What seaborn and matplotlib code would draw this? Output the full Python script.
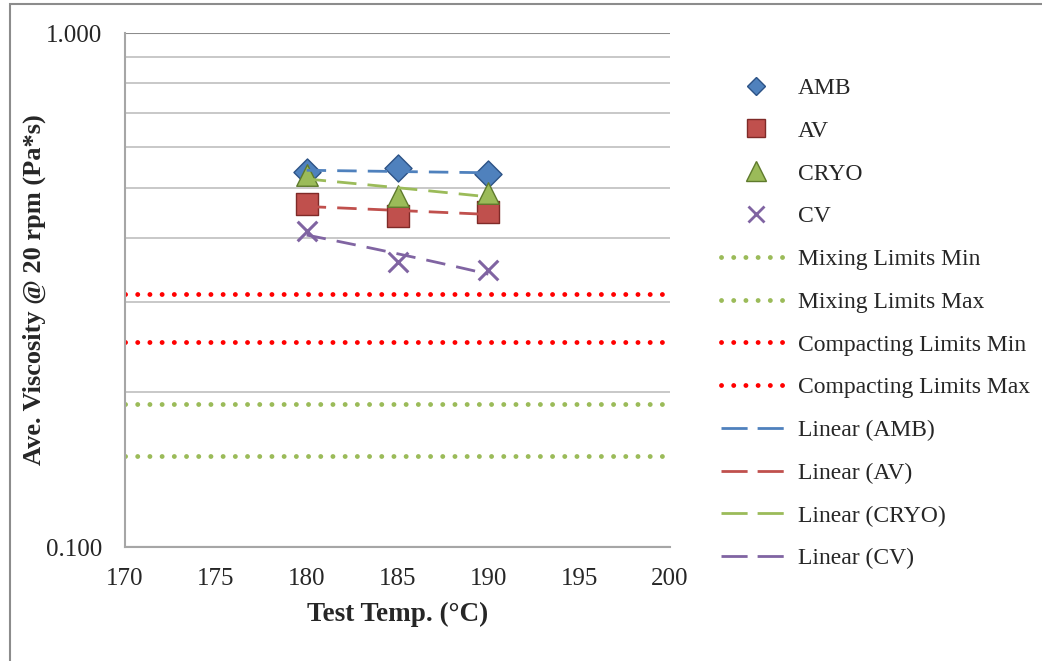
import numpy as np
import pandas as pd
import seaborn as sns
import matplotlib
matplotlib.use("Agg")
import matplotlib.pyplot as plt
from matplotlib.patches import Rectangle
from matplotlib.ticker import FixedLocator, FormatStrFormatter, NullFormatter

sns.set_style("white")
plt.rcParams['font.family'] = ['Liberation Serif', 'DejaVu Serif']

# data
temps = [180, 185, 190]
amb = [0.537, 0.545, 0.531]
av = [0.465, 0.441, 0.449]
cryo = [0.529, 0.482, 0.489]
cv = [0.411, 0.359, 0.346]

mixing_min = 0.15
mixing_max = 0.19
compacting_min = 0.25
compacting_max = 0.31

series_names = ["AMB", "AV", "CRYO", "CV"]
series_values = [amb, av, cryo, cv]
colors = {"AMB": "#4F81BD", "AV": "#C0504D", "CRYO": "#9BBB59", "CV": "#8064A2"}
edges = {"AMB": "#2C5286", "AV": "#7F2A28", "CRYO": "#5E7A2C", "CV": "#8064A2"}
markers = {"AMB": "D", "AV": "s", "CRYO": "^", "CV": "x"}
sizes = {"AMB": 190, "AV": 240, "CRYO": 240, "CV": 200}
leg_sizes = {"AMB": 9.5, "AV": 12.5, "CRYO": 14, "CV": 12}

df = pd.DataFrame({
    "temp": temps * 4,
    "visc": amb + av + cryo + cv,
    "series": sum([[n] * 3 for n in series_names], []),
})

fig = plt.figure(figsize=(10.42, 6.61), dpi=100)
ax = fig.add_axes([125 / 1042, 1 - 547 / 661, 545 / 1042, 514 / 661])
ax.set_yscale("log")

grid_c = "#A6A6A6"
dot = (0, (0.01, 2.5))

# limit lines
limit_handles = []
for val, col, lab in [(mixing_min, "#9BBB59", "Mixing Limits Min"),
                      (mixing_max, "#9BBB59", "Mixing Limits Max"),
                      (compacting_min, "#FF0000", "Compacting Limits Min"),
                      (compacting_max, "#FF0000", "Compacting Limits Max")]:
    h = ax.axhline(val, color=col, lw=3.5, linestyle=dot, dash_capstyle="round",
                   label=lab, zorder=2)
    limit_handles.append(h)

# linear trendlines (fit on the data)
trend_handles = []
xx = np.linspace(180, 190, 60)
for name, vals in zip(series_names, series_values):
    b, a = np.polyfit(temps, vals, 1)
    tdf = pd.DataFrame({"temp": xx, "visc": a + b * xx})
    sns.lineplot(data=tdf, x="temp", y="visc", ax=ax, color=colors[name],
                 lw=2.0, linestyle=(0, (7, 4)), zorder=4, legend=False)
    trend_handles.append(plt.Line2D([], [], color=colors[name], lw=2.0,
                                    linestyle=(0, (9.4, 3.6)),
                                    label="Linear (%s)" % name))

# data points
point_handles = []
for name in series_names:
    sub = df[df["series"] == name]
    if markers[name] == "x":
        sns.scatterplot(data=sub, x="temp", y="visc", ax=ax, marker="x",
                        s=sizes[name], color=colors[name], linewidth=2.2,
                        zorder=3, legend=False)
    else:
        sns.scatterplot(data=sub, x="temp", y="visc", ax=ax, marker=markers[name],
                        s=sizes[name], color=colors[name], edgecolor=edges[name],
                        linewidth=1.0, zorder=3, legend=False)
    point_handles.append(plt.Line2D([], [], linestyle="", marker=markers[name],
                                    markersize=leg_sizes[name],
                                    markerfacecolor=colors[name],
                                    markeredgecolor=edges[name] if name != "CV" else colors[name],
                                    markeredgewidth=1.0 if name != "CV" else 2.0,
                                    label=name))

if ax.get_legend() is not None:
    ax.get_legend().remove()

ax.set_xlim(170, 200)
ax.set_ylim(0.1, 1.0)
ax.set_xticks(np.arange(170, 201, 5))
ax.yaxis.set_major_locator(FixedLocator([0.1, 1.0]))
ax.yaxis.set_major_formatter(FormatStrFormatter("%.3f"))
ax.yaxis.set_minor_locator(FixedLocator(np.arange(0.2, 1.0, 0.1)))
ax.yaxis.set_minor_formatter(NullFormatter())
ax.tick_params(axis="both", which="major", labelsize=18, direction="out",
               length=6, color=grid_c, width=1.2, pad=10.5)
ax.tick_params(axis="y", which="minor", length=0)
ax.tick_params(axis="x", which="major", pad=9)
ax.grid(True, which="minor", axis="y", color="#BFBFBF", lw=1.2)
ax.grid(True, which="major", axis="y", color="#8C8C8C", lw=1.5)
ax.grid(False, axis="x")
for s in ["top", "right"]:
    ax.spines[s].set_visible(False)
for s in ["left", "bottom"]:
    ax.spines[s].set_color(grid_c)
    ax.spines[s].set_linewidth(1.5)

ax.set_xlabel("Test Temp. (°C)", fontsize=19.5, fontweight="bold", labelpad=9)
ax.set_ylabel("Ave. Viscosity @ 20 rpm (Pa*s)", fontsize=19, fontweight="bold", labelpad=0)

fig.legend(handles=point_handles + limit_handles + trend_handles,
           loc="upper left", bbox_to_anchor=(712 / 1042, 1 - 68 / 661),
           frameon=False, fontsize=17, labelspacing=0.9,
           handlelength=2.9, handletextpad=0.35, borderaxespad=0)

fig.patches.append(Rectangle((10 / 1042, -0.05), 1.2, 1 - 4 / 661 + 0.05,
                             transform=fig.transFigure, fill=False,
                             edgecolor="#8C8C8C", lw=1.5))

fig.savefig("out.png", dpi=100)
